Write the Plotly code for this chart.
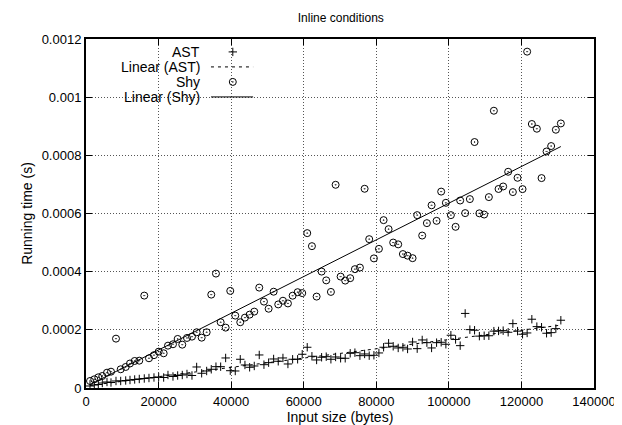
import numpy as np
import plotly.graph_objects as go

title_text = "Inline conditions"
x_title = "Input size (bytes)"
y_title = "Running time (s)"

input_size = [
    1102, 2287, 3389, 4491, 5786, 6888, 8265, 9560, 10937, 12122,
    13417, 14684, 16062, 17357, 18734, 20029, 21406, 22591, 23969, 25263,
    26531, 27826, 29203, 30498, 31875, 33253, 34520, 35815, 37110, 38487,
    39755, 41132, 42510, 43805, 45099, 46367, 47744, 49039, 50334, 51711,
    52979, 54274, 55651, 56946, 58323, 59591, 60968, 62263, 63558, 64935,
    66203, 67498, 68792, 70170, 71437, 72815, 74110, 75487, 76782, 78049,
    79344, 80722, 82016, 83394, 84661, 86039, 87334, 88628, 90006, 91273,
    92651, 93946, 95240, 96618, 97885, 99180, 100558, 101852, 103120, 104497,
    105792, 107087, 108409, 109732, 111027, 112404, 113699, 114966, 116344, 117639,
    118933, 120311, 121578, 122873, 124251, 125545, 126923, 128190, 129485, 130863,
]

ast_time = [
    6.9e-6, 1.03e-5, 1.20e-5, 1.72e-5, 2.07e-5, 1.89e-5, 2.41e-5, 2.41e-5, 2.58e-5, 2.75e-5,
    2.93e-5, 3.10e-5, 3.27e-5, 3.44e-5, 3.61e-5, 3.79e-5, 3.61e-5, 4.47e-5, 3.96e-5, 4.30e-5,
    4.47e-5, 4.82e-5, 4.30e-5, 7.23e-5, 5.06e-5, 5.85e-5, 6.44e-5, 7.33e-5, 7.33e-5, 1.033e-4,
    5.95e-5, 5.85e-5, 9.88e-5, 7.92e-5, 7.12e-5, 7.57e-5, 1.136e-4, 8.02e-5, 8.71e-5, 9.98e-5,
    9.19e-5, 1.033e-4, 8.26e-5, 9.88e-5, 9.88e-5, 1.160e-4, 1.401e-4, 1.091e-4, 9.64e-5, 1.057e-4,
    1.077e-4, 9.88e-5, 1.067e-4, 1.022e-4, 1.022e-4, 1.194e-4, 1.215e-4, 1.112e-4, 1.170e-4, 1.112e-4,
    1.126e-4, 1.205e-4, 1.401e-4, 1.539e-4, 1.435e-4, 1.377e-4, 1.401e-4, 1.342e-4, 1.583e-4, 1.353e-4,
    1.652e-4, 1.559e-4, 1.377e-4, 1.559e-4, 1.573e-4, 1.504e-4, 1.814e-4, 1.669e-4, 1.456e-4, 2.564e-4,
    2.007e-4, 1.986e-4, 1.783e-4, 1.797e-4, 1.797e-4, 1.955e-4, 1.962e-4, 1.972e-4, 1.917e-4, 2.213e-4,
    1.955e-4, 1.848e-4, 1.893e-4, 2.365e-4, 2.110e-4, 2.089e-4, 1.883e-4, 1.903e-4, 2.041e-4, 2.330e-4,
]

shy_time = [
    2.41e-5, 2.99e-5, 3.68e-5, 4.13e-5, 5.27e-5, 5.61e-5, 1.697e-4, 6.44e-5, 7.23e-5, 8.43e-5,
    9.29e-5, 9.40e-5, 3.177e-4, 1.022e-4, 1.129e-4, 1.249e-4, 1.194e-4, 1.456e-4, 1.504e-4, 1.687e-4,
    1.490e-4, 1.721e-4, 1.766e-4, 1.917e-4, 1.731e-4, 1.917e-4, 3.211e-4, 3.934e-4, 2.261e-4, 2.076e-4,
    3.339e-4, 2.489e-4, 2.261e-4, 2.420e-4, 2.523e-4, 2.626e-4, 3.452e-4, 2.970e-4, 2.726e-4, 3.311e-4,
    2.874e-4, 3.001e-4, 2.908e-4, 3.174e-4, 3.294e-4, 3.263e-4, 5.325e-4, 4.877e-4, 3.143e-4, 4.003e-4,
    3.700e-4, 3.304e-4, 6.987e-4, 3.831e-4, 3.693e-4, 3.776e-4, 4.086e-4, 4.141e-4, 6.850e-4, 5.118e-4,
    4.457e-4, 4.784e-4, 5.772e-4, 5.462e-4, 5.001e-4, 4.939e-4, 4.605e-4, 4.550e-4, 4.464e-4, 5.944e-4,
    5.242e-4, 5.669e-4, 6.282e-4, 5.748e-4, 6.753e-4, 6.368e-4, 5.944e-4, 5.542e-4, 6.447e-4, 6.013e-4,
    6.495e-4, 8.457e-4, 6.006e-4, 5.965e-4, 6.564e-4, 9.534e-4, 6.843e-4, 6.929e-4, 7.435e-4, 6.736e-4,
    7.228e-4, 6.839e-4, 1.1565e-3, 9.077e-4, 8.915e-4, 7.218e-4, 8.133e-4, 8.319e-4, 8.880e-4, 9.097e-4,
]

x_ticks = [0, 20000, 40000, 60000, 80000, 100000, 120000, 140000]
y_ticks = [0, 0.0002, 0.0004, 0.0006, 0.0008, 0.001, 0.0012]
y_tick_labels = ["0", "0.0002", "0.0004", "0.0006", "0.0008", "0.001", "0.0012"]

legend_labels = ["AST", "Linear (AST)", "Shy", "Linear (Shy)"]

FONT = "Liberation Sans, Arial, sans-serif"

x = np.array(input_size, dtype=float)
xfit = np.array([x.min(), x.max()])
a_ast = np.polyfit(x, np.array(ast_time), 1)
a_shy = np.polyfit(x, np.array(shy_time), 1)

cross = dict(symbol="cross-thin", size=6, color="black", line=dict(color="black", width=1))
ring = dict(symbol="circle-open-dot", size=7, color="black", line=dict(color="black", width=1))
dashed = dict(color="black", width=1, dash="3px,4px")
solid = dict(color="black", width=1)

fig = go.Figure()
fig.add_trace(go.Scatter(x=input_size, y=ast_time, mode="markers", name=legend_labels[0], marker=cross))
fig.add_trace(go.Scatter(x=xfit, y=np.polyval(a_ast, xfit), mode="lines", name=legend_labels[1], line=dashed))
fig.add_trace(go.Scatter(x=input_size, y=shy_time, mode="markers", name=legend_labels[2], marker=ring))
fig.add_trace(go.Scatter(x=xfit, y=np.polyval(a_shy, xfit), mode="lines", name=legend_labels[3], line=solid))

# gnuplot-style key: text right-aligned, sample to the right, drawn on an overlay axis in [0,1]
key_y = [0.963, 0.920, 0.877, 0.834]
text_x = 0.228
sample_mid = 0.289
sample_l, sample_r = 0.246, 0.329
common = dict(xaxis="x2", yaxis="y2", showlegend=False, hoverinfo="skip")
fig.add_trace(go.Scatter(x=[sample_mid], y=[key_y[0]], mode="markers", marker=cross, **common))
fig.add_trace(go.Scatter(x=[sample_l, sample_r], y=[key_y[1]] * 2, mode="lines", line=dashed, **common))
fig.add_trace(go.Scatter(x=[sample_mid], y=[key_y[2]], mode="markers", marker=ring, **common))
fig.add_trace(go.Scatter(x=[sample_l, sample_r], y=[key_y[3]] * 2, mode="lines", line=solid, **common))

annotations = []
for lab, ky in zip(legend_labels, key_y):
    annotations.append(dict(
        x=text_x, y=ky, xref="paper", yref="paper", text=lab, showarrow=False,
        xanchor="right", yanchor="middle", font=dict(family=FONT, size=14, color="black"),
    ))

axis_common = dict(
    showline=True, linecolor="black", linewidth=2, mirror="ticks",
    ticks="inside", ticklen=6, tickwidth=1, tickcolor="black",
    showgrid=True, gridcolor="#555555", griddash="1px,2px", gridwidth=1,
    zeroline=False, automargin=False,
    tickfont=dict(family=FONT, size=13, color="black"),
)

# the page body adds an 8px offset, so the figure is 8px smaller on each used side
fig.update_layout(
    width=614, height=417,
    margin=dict(l=78, r=28, t=31, b=37),
    paper_bgcolor="white", plot_bgcolor="white",
    showlegend=False,
    title=dict(text=title_text, x=0.542, xanchor="center", y=0.976, yanchor="middle",
               font=dict(family=FONT, size=12, color="black")),
    xaxis=dict(range=[0, 140000], tickvals=x_ticks, ticktext=[str(v) for v in x_ticks],
               title=dict(text=x_title, font=dict(family=FONT, size=14, color="black"), standoff=2),
               **axis_common),
    yaxis=dict(range=[0, 0.0012], tickvals=y_ticks, ticktext=y_tick_labels,
               title=dict(text=y_title, font=dict(family=FONT, size=14, color="black"), standoff=6),
               **axis_common),
    xaxis2=dict(range=[0, 1], overlaying="x", visible=False, fixedrange=True),
    yaxis2=dict(range=[0, 1], overlaying="y", visible=False, fixedrange=True),
    shapes=[dict(type="rect", xref="paper", yref="paper", x0=0.0, x1=0.345, y0=0.811, y1=1.0,
                 fillcolor="white", line=dict(width=0), layer="between")],
    annotations=annotations,
)

fig.write_html("out.html")
